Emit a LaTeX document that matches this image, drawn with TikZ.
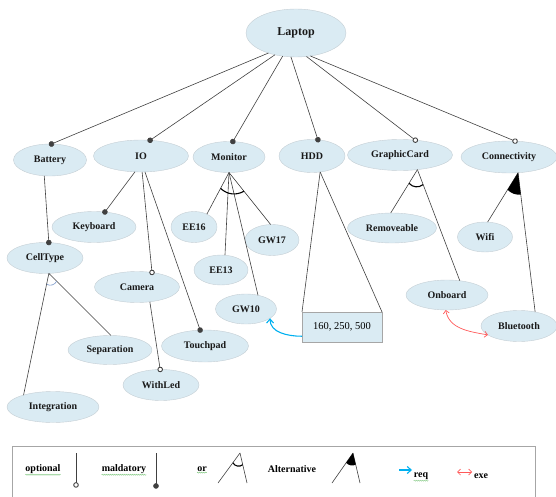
\documentclass[tikz,border=0pt]{standalone}
\usepackage{fontspec}
\setmainfont{Liberation Serif}
\usepackage{xcolor}
\usepackage{tikz}
\usetikzlibrary{
arrows.meta,
shapes.geometric,
calc,
decorations.pathmorphing
}
\definecolor{nodefill}{RGB}{218,235,243}
\definecolor{nodeline}{RGB}{196,206,212}
\definecolor{reqblue}{RGB}{0,176,240}
\definecolor{exered}{RGB}{255,90,90}
\definecolor{orblue}{RGB}{120,150,200}
\definecolor{spellgreen}{RGB}{140,205,140}

\begin{document}
\begin{tikzpicture}[
x=1pt,y=1pt,
feat/.style={
ellipse,
draw=nodeline,
fill=nodefill,
inner sep=0pt,
outer sep=0pt,
minimum height=31pt,
text=black!90,
font=\bfseries\fontsize{10}{12}\selectfont
},
valbox/.style={
rectangle,
draw=gray!70,
fill=nodefill,
minimum width=80pt,
minimum height=30pt,
outer sep=0pt,
font=\fontsize{10.5}{12}\selectfont
},
legtext/.style={inner sep=0pt,font=\bfseries\fontsize{10}{12}\selectfont},
edge/.style={draw=black!75,line width=0.6pt},
mand/.style={edge,-{Circle[length=5.5pt]},shorten >=-2.7pt},
opt/.style={edge,-{Circle[open,length=5.5pt,fill=white,line width=0.9pt]},shorten >=-2.7pt},
orarc/.style={draw=black,line width=1.1pt},
smallor/.style={draw=orblue,line width=0.6pt},
alt/.style={fill=black},
req/.style={-{Straight Barb[length=4pt,width=7pt]},draw=reqblue,line width=1.1pt},
exe/.style={{Straight Barb[length=3pt,width=6pt]}-{Straight Barb[length=3pt,width=6pt]},draw=exered,line width=0.7pt},
spell/.style={draw=spellgreen,line width=0.5pt,decorate,decoration={snake,amplitude=0.5pt,segment length=2pt}}
]
\useasboundingbox (0,0) rectangle (556,-497);

\node[feat,minimum width=100pt,minimum height=48pt,font=\bfseries\fontsize{12}{14}\selectfont] (laptop) at (296,-33) {Laptop};

\node[feat,minimum width=73pt,minimum height=32pt] (battery) at (50,-160) {Battery};
\node[feat,minimum width=95pt,minimum height=32pt] (io) at (141,-156) {IO};
\node[feat,minimum width=72pt] (monitor) at (229,-157) {Monitor};
\node[feat,minimum width=66pt,minimum height=33pt] (hdd) at (312,-156) {HDD};
\node[feat,minimum width=105pt] (gcard) at (400,-155) {GraphicCard};
\node[feat,minimum width=96pt,minimum height=32pt] (conn) at (509,-157) {Connectivity};

\node[feat,minimum width=84pt] (keyboard) at (94,-227) {Keyboard};
\node[feat,minimum width=76pt] (celltype) at (45,-258) {CellType};
\node[feat,minimum width=85pt] (camera) at (137,-287) {Camera};
\node[feat,minimum width=87pt,minimum height=32pt] (touchpad) at (205,-346) {Touchpad};
\node[feat,minimum width=84pt,minimum height=29pt] (separation) at (110,-350) {Separation};
\node[feat,minimum width=92pt] (integration) at (53,-407) {Integration};
\node[feat,minimum width=76pt] (withled) at (161,-385) {WithLed};

\node[feat,minimum width=46pt] (ee16) at (194,-227) {EE16};
\node[feat,minimum width=54pt] (gw17) at (272,-240) {GW17};
\node[feat,minimum width=54pt,minimum height=30pt] (ee13) at (221,-270) {EE13};
\node[feat,minimum width=61pt,minimum height=30pt] (gw10) at (246,-309) {GW10};

\node[valbox] (sizes) at (342,-327) {160, 250, 500};

\node[feat,minimum width=89pt,minimum height=30pt] (removeable) at (392,-228) {Removeable};
\node[feat,minimum width=82pt,minimum height=30pt] (onboard) at (447,-295) {Onboard};
\node[feat,minimum width=55pt,minimum height=30pt] (wifi) at (485,-237) {Wifi};
\node[feat,minimum width=76pt] (bluetooth) at (519,-326) {Bluetooth};

\draw[mand] (laptop.216) -- (battery.85);
\draw[mand] (laptop.226) -- (io.60);
\draw[mand] (laptop.240) -- (monitor.76);
\draw[mand] (laptop.258) -- (hdd.70);
\draw[opt] (laptop.294) -- (gcard.44);
\draw[opt] (laptop.302) -- (conn.69);

\draw[mand] (battery.250) -- (celltype.76);
\draw[edge] (celltype.284) -- (integration.158);
\draw[edge] (celltype.284) -- (separation.86);
\draw[smallor] ($(celltype.284)!11pt!(integration.158)$) to[bend right=50] ($(celltype.284)!11pt!(separation.86)$);

\draw[mand] (io.249) -- (keyboard.54);
\draw[opt] (io.274) -- (camera.44);
\draw[mand] (io.284) -- (touchpad.107);
\draw[opt] (camera.311) -- (withled.93);

\draw[edge] (monitor.south) -- (ee16.45);
\draw[edge] (monitor.south) -- (ee13.75);
\draw[edge] (monitor.south) -- (gw10.49);
\draw[edge] (monitor.south) -- (gw17.95);
\draw[orarc] ($(monitor.south)!18pt!(ee16.45)$) to[bend right=36] ($(monitor.south)!24pt!(gw17.95)$);

\draw[edge] (hdd.297) -- (sizes.north west);
\draw[edge] (hdd.297) -- (sizes.north east);

\draw[edge] (gcard.320) -- (removeable.95);
\draw[edge] (gcard.320) -- (onboard.48);
\draw[orarc] ($(gcard.320)!16pt!(removeable.95)$) to[bend right=45] ($(gcard.320)!16pt!(onboard.48)$);

\draw[edge] (conn.300) -- (wifi.80);
\draw[edge] (conn.300) -- (bluetooth.41);
\fill[alt] (conn.300) -- ($(conn.300)!20pt!(wifi.80)$) to[bend right=25] ($(conn.300)!22pt!(bluetooth.41)$) -- cycle;

\draw[req] (sizes.193) to[out=180,in=-90] (gw10.339);
\draw[exe] (onboard.265) to[out=-80,in=170] (bluetooth.196);

\draw[draw=gray!70,line width=0.8pt] (12,-497) -- (12,-446) -- (535,-446) -- (535,-497);

\node[legtext] (optional) at (43,-469) {optional};
\coordinate (opttop) at (76,-453);
\coordinate (optend) at (76,-485);
\draw[opt] (opttop) -- (optend);

\node[legtext] (maldatory) at (124,-469) {maldatory};
\coordinate (mandtop) at (156,-453);
\coordinate (mandend) at (156,-486);
\draw[mand] (mandtop) -- (mandend);

\node[legtext] (ortext) at (202,-469) {or};
\coordinate (ortop) at (240,-453);
\coordinate (orleft) at (218,-483);
\coordinate (orright) at (247,-483);
\draw[edge] (ortop) -- (orleft);
\draw[edge] (ortop) -- (orright);
\draw[orarc] ($(ortop)!12pt!(orleft)$) to[bend right=55] ($(ortop)!12pt!(orright)$);

\node[legtext] (alttext) at (292,-469) {Alternative};
\coordinate (alttop) at (353,-453);
\coordinate (altleft) at (332,-483);
\coordinate (altright) at (360,-483);
\draw[edge] (alttop) -- (altleft);
\draw[edge] (alttop) -- (altright);
\fill[alt] (alttop) -- ($(alttop)!12pt!(altleft)$) to[bend right=35] ($(alttop)!12pt!(altright)$) -- cycle;

\coordinate (reqstart) at (399,-470);
\coordinate (reqend) at (412,-470);
\draw[req] (reqstart) -- (reqend);
\node[legtext] (reqtext) at (421,-476) {req};

\coordinate (exestart) at (457,-472);
\coordinate (exeend) at (472,-472);
\draw[exe] (exestart) -- (exeend);
\node[legtext] (exetext) at (481,-476) {exe};

\draw[spell] ([yshift=-1pt]optional.south west) -- ([yshift=-1pt]optional.south east);
\draw[spell] ([yshift=-1pt]maldatory.south west) -- ([yshift=-1pt]maldatory.south east);
\draw[spell] ([yshift=-1pt]ortext.south west) -- ([yshift=-1pt]ortext.south east);
\draw[spell] ([yshift=-1pt]reqtext.south west) -- ([yshift=-1pt]reqtext.south east);

\end{tikzpicture}
\end{document}
